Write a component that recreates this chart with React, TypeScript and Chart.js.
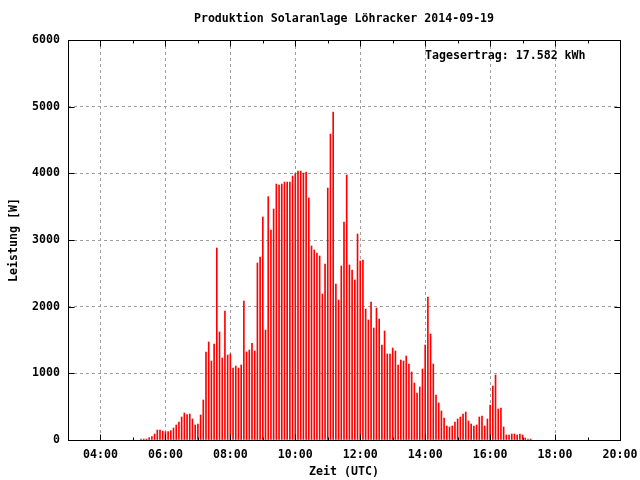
import React, { useEffect, useRef } from "react";
import { Chart, registerables } from "chart.js";

Chart.register(...registerables);

const chartTitle = "Produktion Solaranlage Löhracker 2014-09-19";
const xAxisTitle = "Zeit (UTC)";
const yAxisTitle = "Leistung [W]";
const yieldLabel = "Tagesertrag: 17.582 kWh";

// 5-minute samples (UTC)
const times = [
  "05:15", "05:20", "05:25", "05:30", "05:35", "05:40", "05:45", "05:50", "05:55",
  "06:00", "06:05", "06:10", "06:15", "06:20", "06:25", "06:30", "06:35", "06:40", "06:45", "06:50", "06:55",
  "07:00", "07:05", "07:10", "07:15", "07:20", "07:25", "07:30", "07:35", "07:40", "07:45", "07:50", "07:55",
  "08:00", "08:05", "08:10", "08:15", "08:20", "08:25", "08:30", "08:35", "08:40", "08:45", "08:50", "08:55",
  "09:00", "09:05", "09:10", "09:15", "09:20", "09:25", "09:30", "09:35", "09:40", "09:45", "09:50", "09:55",
  "10:00", "10:05", "10:10", "10:15", "10:20", "10:25", "10:30", "10:35", "10:40", "10:45", "10:50", "10:55",
  "11:00", "11:05", "11:10", "11:15", "11:20", "11:25", "11:30", "11:35", "11:40", "11:45", "11:50", "11:55",
  "12:00", "12:05", "12:10", "12:15", "12:20", "12:25", "12:30", "12:35", "12:40", "12:45", "12:50", "12:55",
  "13:00", "13:05", "13:10", "13:15", "13:20", "13:25", "13:30", "13:35", "13:40", "13:45", "13:50", "13:55",
  "14:00", "14:05", "14:10", "14:15", "14:20", "14:25", "14:30", "14:35", "14:40", "14:45", "14:50", "14:55",
  "15:00", "15:05", "15:10", "15:15", "15:20", "15:25", "15:30", "15:35", "15:40", "15:45", "15:50", "15:55",
  "16:00", "16:05", "16:10", "16:15", "16:20", "16:25", "16:30", "16:35", "16:40", "16:45", "16:50", "16:55",
  "17:00", "17:05", "17:10", "17:15",
];

// Leistung [W]
const power = [
  15, 15, 15, 35, 50, 90, 150, 150, 135,
  125, 125, 140, 180, 225, 270, 345, 405, 380, 390, 315, 225,
  240, 375, 600, 1320, 1470, 1185, 1440, 2880, 1620, 1230, 1935, 1275,
  1290, 1080, 1110, 1080, 1125, 2085, 1320, 1350, 1450, 1335, 2655, 2745,
  3345, 1650, 3650, 3150, 3465, 3840, 3825, 3840, 3870, 3870, 3870, 3960,
  3995, 4035, 4035, 4005, 4020, 3630, 2910, 2850, 2805, 2760, 2190, 2640,
  3780, 4590, 4920, 2340, 2100, 2610, 3270, 3975, 2625, 2550, 2400, 3090,
  2685, 2700, 1965, 1800, 2070, 1680, 1980, 1815, 1425, 1635, 1290, 1290,
  1380, 1335, 1125, 1200, 1185, 1260, 1140, 1020, 855, 705, 795, 1065,
  1425, 2145, 1590, 1140, 675, 555, 435, 330, 210, 195, 210, 270,
  315, 345, 390, 420, 285, 240, 210, 225, 345, 360, 210, 315,
  525, 810, 975, 465, 480, 195, 75, 75, 90, 90, 75, 90,
  75, 30, 15, 15,
];

const xMinHour = 3;
const xMaxHour = 20;
const xTickHours = [4, 6, 8, 10, 12, 14, 16, 18, 20];
const xTickLabels = ["04:00", "06:00", "08:00", "10:00", "12:00", "14:00", "16:00", "18:00", "20:00"];
const yTicks = [0, 1000, 2000, 3000, 4000, 5000, 6000];
const yTickLabels = ["0", "1000", "2000", "3000", "4000", "5000", "6000"];

const FONT_FAMILY = '"DejaVu Sans Mono", "Liberation Mono", monospace';
const FONT_SIZE = 11.6;

function toHours(t: string): number {
  const [h, m] = t.split(":").map(Number);
  return h + m / 60;
}

const framePlugin = {
  id: "gnuplotFrame",
  afterDraw(chart: any) {
    const { ctx, chartArea: a, scales } = chart;
    const x = scales.x;
    const y = scales.y;
    ctx.save();
    ctx.strokeStyle = "#000";
    ctx.lineWidth = 1;
    ctx.setLineDash([]);
    ctx.beginPath();
    const L = Math.round(a.left) + 0.5;
    const R = Math.round(a.right) + 0.5;
    const T = Math.round(a.top) + 0.5;
    const B = Math.round(a.bottom) + 0.5;
    for (let h = xMinHour; h <= xMaxHour; h++) {
      const px = Math.round(x.getPixelForValue(h)) + 0.5;
      const len = xTickHours.includes(h) ? 6 : 3;
      ctx.moveTo(px, B);
      ctx.lineTo(px, B - len);
      ctx.moveTo(px, T);
      ctx.lineTo(px, T + len);
    }
    for (const v of yTicks) {
      const py = Math.round(y.getPixelForValue(v)) + 0.5;
      ctx.moveTo(L, py);
      ctx.lineTo(L + 6, py);
      ctx.moveTo(R, py);
      ctx.lineTo(R - 6, py);
    }
    ctx.stroke();
    ctx.strokeRect(L, T, R - L, B - T);

    ctx.fillStyle = "#000";
    ctx.font = `bold ${FONT_SIZE}px ${FONT_FAMILY}`;
    ctx.textBaseline = "middle";

    // tick labels
    ctx.textAlign = "center";
    xTickHours.forEach((h, i) => {
      ctx.fillText(xTickLabels[i], x.getPixelForValue(h), 455);
    });
    ctx.textAlign = "right";
    yTicks.forEach((v, i) => {
      ctx.fillText(yTickLabels[i], 60, y.getPixelForValue(v));
    });

    ctx.textAlign = "center";
    ctx.fillText(chartTitle, (a.left + a.right) / 2, 19);
    ctx.fillText(xAxisTitle, (a.left + a.right) / 2, 472);
    ctx.textAlign = "left";
    ctx.fillText(yieldLabel, 425, 56);
    ctx.save();
    ctx.translate(14, (a.top + a.bottom) / 2);
    ctx.rotate(-Math.PI / 2);
    ctx.textAlign = "center";
    ctx.fillText(yAxisTitle, 0, 0);
    ctx.restore();
    ctx.restore();
  },
};

export default function App() {
  const canvasRef = useRef<HTMLCanvasElement | null>(null);

  useEffect(() => {
    const canvas = canvasRef.current;
    if (!canvas) return;
    const chart = new Chart(canvas, {
      type: "bar",
      data: {
        datasets: [
          {
            data: times.map((t, i) => ({ x: toHours(t), y: power[i] })),
            backgroundColor: "#ff0000",
            borderWidth: 0,
            barThickness: 1,
          } as any,
        ],
      },
      options: {
        responsive: false,
        animation: false,
        devicePixelRatio: 1,
        layout: { padding: { top: 40, right: 20, left: 0, bottom: 0 } },
        plugins: {
          legend: { display: false },
          tooltip: { enabled: false },
          title: { display: false },
        },
        scales: {
          x: {
            type: "linear",
            min: xMinHour,
            max: xMaxHour,
            offset: false,
            afterFit: (s: any) => {
              s.height = 40;
            },
            ticks: {
              display: false,
              stepSize: 1,
              autoSkip: false,
              maxRotation: 0,
              minRotation: 0,
            },
            grid: {
              offset: false,
              drawTicks: false,
              lineWidth: 1,
              color: (ctx: any) => {
                const v = ctx.tick ? ctx.tick.value : NaN;
                return xTickHours.includes(v) && v !== xMaxHour ? "#a0a0a0" : "rgba(0,0,0,0)";
              },
            },
            border: { display: false, dash: [3, 3] },
          },
          y: {
            type: "linear",
            min: 0,
            max: 6000,
            afterFit: (s: any) => {
              s.width = 68;
            },
            ticks: {
              display: false,
              stepSize: 1000,
            },
            grid: {
              offset: false,
              drawTicks: false,
              lineWidth: 1,
              color: (ctx: any) => {
                const v = ctx.tick ? ctx.tick.value : NaN;
                return v > 0 && v < 6000 ? "#a0a0a0" : "rgba(0,0,0,0)";
              },
            },
            border: { display: false, dash: [3, 3] },
          },
        },
      },
      plugins: [framePlugin],
    } as any);
    return () => chart.destroy();
  }, []);

  return (
    <div style={{ position: "fixed", left: 0, top: 0, width: 640, height: 480, background: "#fff" }}>
      <canvas ref={canvasRef} width={640} height={480} style={{ display: "block" }} />
    </div>
  );
}
